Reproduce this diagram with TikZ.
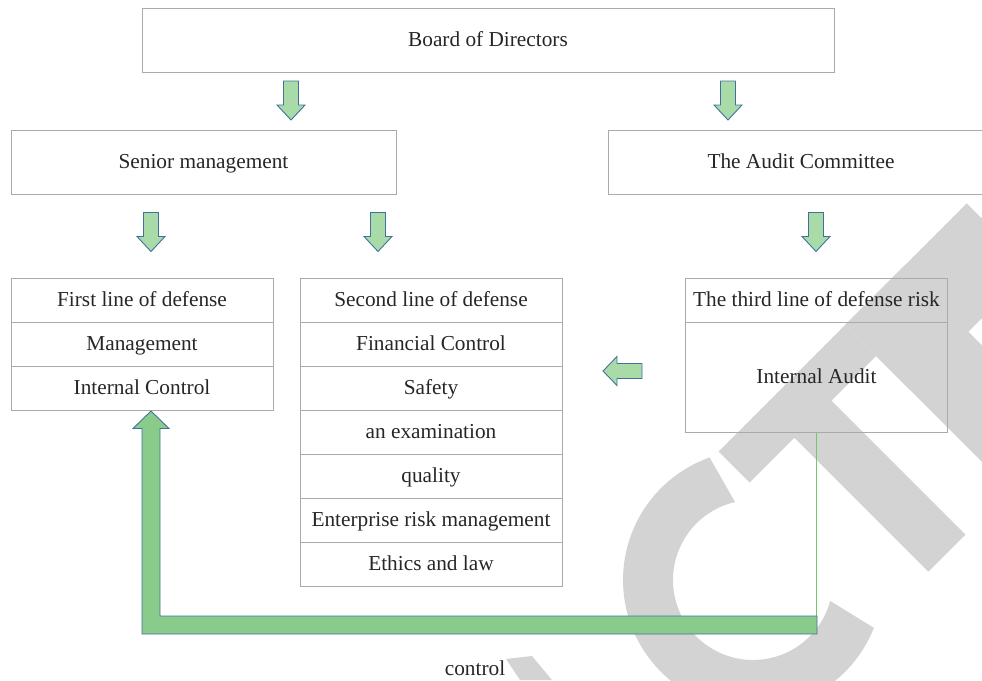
\documentclass[tikz,border=0pt]{standalone}
\usepackage{fontspec}
\setmainfont{Liberation Serif}
\usetikzlibrary{calc}
\definecolor{boxgray}{RGB}{170,170,170}
\definecolor{wm}{RGB}{211,211,211}
\definecolor{afill}{RGB}{169,219,169}
\definecolor{bfill}{RGB}{137,203,139}
\definecolor{aline}{RGB}{65,113,156}
\definecolor{gline}{RGB}{112,200,112}
\definecolor{txt}{RGB}{38,38,38}
\begin{document}
\begin{tikzpicture}[x=1pt,y=-1pt,
  box/.style={draw=boxgray,line width=0.9pt,inner sep=0pt,text=txt,
    font=\fontsize{21.3}{25}\selectfont,text height=15pt,text depth=3pt,anchor=center},
  smallarrow/.style={fill=afill,draw=aline,line width=0.9pt,line join=miter},
  bigarrow/.style={fill=bfill,draw=aline,line width=0.9pt},
  wmark/.style={fill=wm,draw=none},
  label/.style={text=txt,font=\fontsize{21.3}{25}\selectfont,inner sep=0pt},
  pics/downarrow/.style={code={\path[smallarrow] (-7.5,0) -- (7.5,0) -- (7.5,24) -- (14,24) -- (0,39) -- (-14,24) -- (-7.5,24) -- cycle;}},
  pics/leftarrow/.style={code={\path[smallarrow] (0,0) -- (14,-14.5) -- (14,-7.5) -- (39,-7.5) -- (39,7.5) -- (14,7.5) -- (14,14.5) -- cycle;}}
]
\useasboundingbox (0,0) rectangle (982,680);
% watermark
\begin{scope}
\clip (0,0) rectangle (982,680);
\fill[wmark] (718.5,451.5) -- (749.5,482.5) -- (794.3,437.7) -- (928.3,571.7) -- (965.4,534.6) -- (831.4,400.6) -- (876,356) -- (845,325) -- cycle;
\fill[wmark] (845,325) -- (903.3,266.7) -- (1068.3,431.7) -- (1010,490) -- cycle;
\fill[wmark] (845,325) -- (966.7,203.3) -- (1031.7,268.3) -- (910,390) -- cycle;
\fill[wmark] ($(753,580)+(21.6:130)$) arc[start angle=21.6,end angle=250.5,radius=130]
   -- ($(753,580)+(257:80)$) arc[start angle=257,end angle=15.2,radius=80] -- cycle;
\fill[wmark] (506,659) -- (532,656) -- (552,680) -- (520,680) -- cycle;
\end{scope}
% boxes
\node[box,minimum width=692,minimum height=64] (board) at (488,40) {Board of Directors};
\node[box,minimum width=385,minimum height=64] (senior) at (203.5,162) {Senior management};
\node[box,minimum width=386,minimum height=64] (audit) at (801,162) {The Audit Committee};
\node[box,minimum width=262,minimum height=44] (f1) at (142,300) {First line of defense};
\node[box,minimum width=262,minimum height=44] (f2) at (142,344) {Management};
\node[box,minimum width=262,minimum height=44] (f3) at (142,388) {Internal Control};
\node[box,minimum width=262,minimum height=44.07] (s1) at (431,300.3) {Second line of defense};
\node[box,minimum width=262,minimum height=44.07] (s2) at (431,344.4) {Financial Control};
\node[box,minimum width=262,minimum height=44.07] (s3) at (431,388.5) {Safety};
\node[box,minimum width=262,minimum height=44.07] (s4) at (431,432.5) {an examination};
\node[box,minimum width=262,minimum height=44.07] (s5) at (431,476.6) {quality};
\node[box,minimum width=262,minimum height=44.07] (s6) at (431,520.6) {Enterprise risk management};
\node[box,minimum width=262,minimum height=44.07] (s7) at (431,564.7) {Ethics and law};
\node[box,minimum width=261.6,minimum height=44] (t1) at (816.5,300.7) {The third line of defense risk};
\node[box,minimum width=261.6,minimum height=109.6] (t2) at (816.5,377.5) {Internal Audit};
% block arrows
\pic (a1) at (291,81) {downarrow};
\pic (a2) at (728,81) {downarrow};
\pic (a3) at (151,212.5) {downarrow};
\pic (a4) at (378,212.5) {downarrow};
\pic (a5) at (816,212.5) {downarrow};
\pic (a6) at (603,371) {leftarrow};
% control loop
\coordinate (lcorner) at (817,616);
\draw[gline,line width=1pt] (t2.south) -- (t2.south |- lcorner);
\path[bigarrow] (151,411) -- (169,428.5) -- (160,428.5) -- (160,616) -- (lcorner) -- (817,634) -- (142,634) -- (142,428.5) -- (133,428.5) -- cycle;
\node[label] (ctl) at (475,668) {control};
\end{tikzpicture}
\end{document}
